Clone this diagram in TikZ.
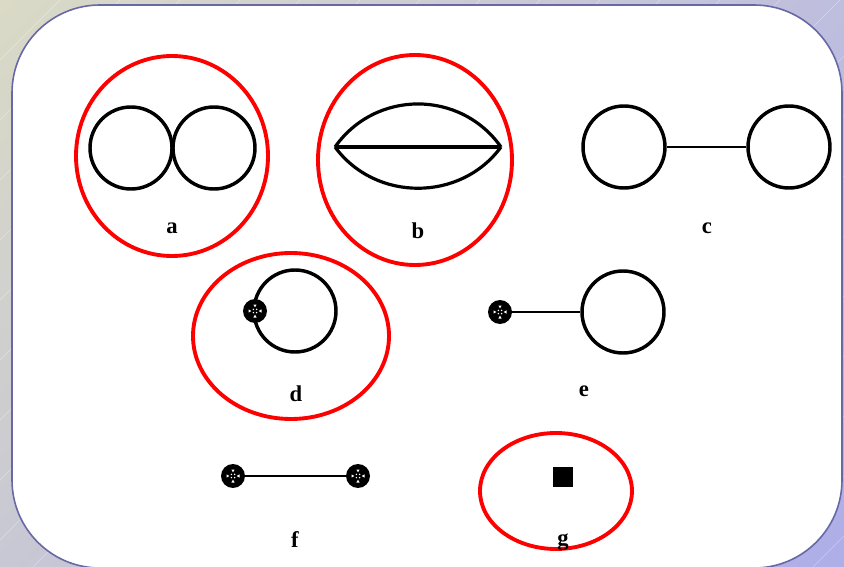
\documentclass[tikz,border=0pt]{standalone}
\usepackage{fontspec}
\usetikzlibrary{shadings}
\setmainfont{Liberation Serif}
\definecolor{bgUL}{RGB}{218,218,198}
\definecolor{bgUR}{RGB}{190,190,222}
\definecolor{bgLL}{RGB}{200,200,212}
\definecolor{bgLR}{RGB}{174,174,232}
\definecolor{frame}{RGB}{104,104,166}
\begin{document}
\begin{tikzpicture}[x=0.75pt,y=-0.75pt,
  ring/.style={circle,draw=black,line width=2.6pt,minimum size=#1*0.75pt,inner sep=0pt},
  ring/.default=82,
  redring/.style={draw=red,line width=2.9pt},
  blk/.style={line width=2.4pt,black},
  conn/.style={line width=1.7pt,black},
  lbl/.style={font=\fontsize{17}{20}\selectfont\bfseries,inner sep=0pt},
  vert/.style={circle,fill=black,minimum size=18pt,inner sep=0pt,
    path picture={
      \fill[white,shift={(path picture bounding box.center)}]
        (-1.6,-6.5)--(1.6,-6.5)--(0,-3.6)--cycle
        (-1.6,6.5)--(1.6,6.5)--(0,3.6)--cycle
        (-6.5,-1.6)--(-6.5,1.6)--(-3.6,0)--cycle
        (6.5,-1.6)--(6.5,1.6)--(3.6,0)--cycle;
      \fill[white,shift={(path picture bounding box.center)}]
        (-1.6,-1.6) circle (0.8) (1.6,-1.6) circle (0.8)
        (-1.6,1.6) circle (0.8) (1.6,1.6) circle (0.8);
    }},
  sq/.style={rectangle,fill=black,minimum size=15pt,inner sep=0pt}
]
\useasboundingbox (0,0) rectangle (844,567);
% background
\shade[upper left=bgUL, upper right=bgUR, lower left=bgLL, lower right=bgLR]
  (0,0) rectangle (844,567);
\begin{scope}
\clip (0,0) rectangle (844,567);
\foreach \k in {0,60,...,1400} {
  \draw[white,opacity=0.35,line width=0.4pt] (\k,0) -- (\k-600,600);
}
\filldraw[fill=white,draw=frame,line width=1.2pt,rounded corners=66pt]
  (12,5) rectangle (842,568);
\end{scope}

% a
\draw[redring] (172,156) ellipse [x radius=96, y radius=100];
\node[ring] (a1) at (131,148) {};
\node[ring] (a2) at (214,148) {};
\node[lbl] (la) at (172,228) {a};

% b
\draw[redring] (415,160) ellipse [x radius=97, y radius=105];
\coordinate (bl) at (335,147);
\coordinate (br) at (501,147);
\draw[blk] (bl) .. controls (375.5,89.6) and (460.5,89.6) .. (br);
\draw[blk] (bl) .. controls (375.5,202) and (460.5,202) .. (br);
\draw[blk] (bl) -- (br);
\node[lbl] (lb) at (418,231) {b};

% c
\node[ring] (c1) at (624,147) {};
\node[ring] (c2) at (789,147) {};
\draw[conn] (c1) -- (c2);
\node[lbl] (lc) at (707,228) {c};

% d
\draw[redring] (291,336) ellipse [x radius=98, y radius=83];
\node[ring] (d1) at (295,311) {};
\node[vert] (dv) at (255,311) {};
\node[lbl] (ld) at (296,394) {d};

% e
\node[vert] (ev) at (500,312) {};
\node[ring] (e1) at (623,312) {};
\draw[conn] (ev) -- (e1);
\node[lbl] (le) at (584,391) {e};

% f
\node[vert] (f1) at (233,476) {};
\node[vert] (f2) at (358,476) {};
\draw[conn] (f1) -- (f2);
\node[lbl] (lf) at (295,540) {f};

% g
\draw[redring] (556,491) ellipse [x radius=76, y radius=58];
\node[sq] (g1) at (563,477) {};
\node[lbl] (lg) at (563,542) {g};
\end{tikzpicture}
\end{document}
